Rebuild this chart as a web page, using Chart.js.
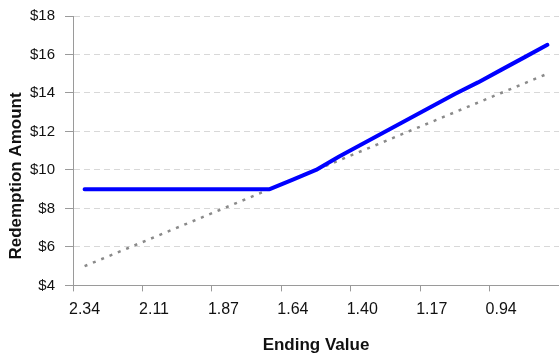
<!DOCTYPE html>
<html>
<head>
<meta charset="utf-8">
<script src="https://cdn.jsdelivr.net/npm/chart.js@4.4.1/dist/chart.umd.min.js"></script>
<style>
  html, body { margin: 0; padding: 0; background: #fff; }
  #wrap { width: 559px; height: 356px; }
</style>
</head>
<body>
<div id="wrap"><canvas id="chart" width="559" height="356"></canvas></div>
<script>
// Ending values along the x axis (every third one is labelled)
const endingValues = ["2.34", "2.26", "2.18", "2.11", "2.03", "1.95", "1.87", "1.79", "1.72", "1.64", "1.56",
                      "1.48", "1.40", "1.33", "1.25", "1.17", "1.09", "1.01", "0.94", "0.86", "0.78"]

// Redemption amount (blue) and the dotted reference line
const redemption = [9, 9, 9, 9, 9, 9, 9, 9, 9, 9.5, 10.0, 10.7, 11.35, 12.0, 12.65, 13.3, 13.95, 14.55, 15.2, 15.85, 16.5]
const reference = [5, 5.5, 6, 6.5, 7, 7.5, 8, 8.5, 9, 9.5, 10, 10.5, 11, 11.5, 12, 12.5, 13, 13.5, 14, 14.5, 15]

const yTicks = [4, 6, 8, 10, 12, 14, 16, 18]

const FONT = "'Liberation Sans', Arial, sans-serif"
const AXIS_GRAY = "#9a9a9a"

// y axis title, centred on the whole picture like the original
const yTitlePlugin = {
    id: "yTitle",
    afterDraw(chart) {
        const ctx = chart.ctx
        ctx.save()
        ctx.translate(16, 176)
        ctx.rotate(-Math.PI / 2)
        ctx.font = "bold 17px " + FONT
        ctx.fillStyle = "#111"
        ctx.textAlign = "center"
        ctx.textBaseline = "middle"
        ctx.fillText("Redemption Amount", 0, 0)
        ctx.restore()
    }
}

const ctx = document.getElementById("chart").getContext("2d")

new Chart(ctx, {
    type: "line",
    data: {
        labels: endingValues,
        datasets: [{
            label: "Redemption Amount",
            data: redemption,
            borderColor: "#0000ff",
            borderWidth: 4,
            borderCapStyle: "round",
            borderJoinStyle: "round",
            pointRadius: 0,
            tension: 0,
            fill: false
        }, {
            label: "Reference",
            data: reference,
            borderColor: "#8a8a8a",
            borderWidth: 2.5,
            borderDash: [3, 6],
            pointRadius: 0,
            tension: 0,
            fill: false
        }]
    },
    options: {
        responsive: false,
        animation: false,
        layout: { padding: { left: 20, top: 6, right: 0, bottom: 0 } },
        plugins: {
            legend: { display: false },
            tooltip: { enabled: false }
        },
        scales: {
            x: {
                type: "category",
                offset: true,
                grid: {
                    offset: true,
                    drawOnChartArea: false,
                    tickLength: 6,
                    color: (c) => (c.index === undefined || c.index % 3 === 0) ? AXIS_GRAY : "rgba(0,0,0,0)"
                },
                border: { color: AXIS_GRAY, width: 1 },
                ticks: {
                    autoSkip: false,
                    maxRotation: 0,
                    padding: 9,
                    color: "#111",
                    font: { family: FONT, size: 16 },
                    callback: function (value, index) {
                        return index % 3 === 0 ? endingValues[index] : ""
                    }
                },
                title: {
                    display: true,
                    text: "Ending Value",
                    color: "#111",
                    font: { family: FONT, size: 17, weight: "bold" },
                    padding: { top: 7, bottom: 0 }
                }
            },
            y: {
                min: yTicks[0],
                max: yTicks[yTicks.length - 1],
                afterBuildTicks: (axis) => { axis.ticks = yTicks.map(v => ({ value: v })) },
                grid: {
                    color: "#d8d8d8",
                    tickLength: 8,
                    tickColor: AXIS_GRAY,
                    lineWidth: 1
                },
                border: { color: AXIS_GRAY, width: 1, dash: [6, 4] },
                ticks: {
                    padding: 10,
                    color: "#111",
                    font: { family: FONT, size: 15, lineHeight: 0.8 },
                    callback: (v) => "$" + v
                }
            }
        }
    },
    plugins: [yTitlePlugin]
})
</script>
</body>
</html>
